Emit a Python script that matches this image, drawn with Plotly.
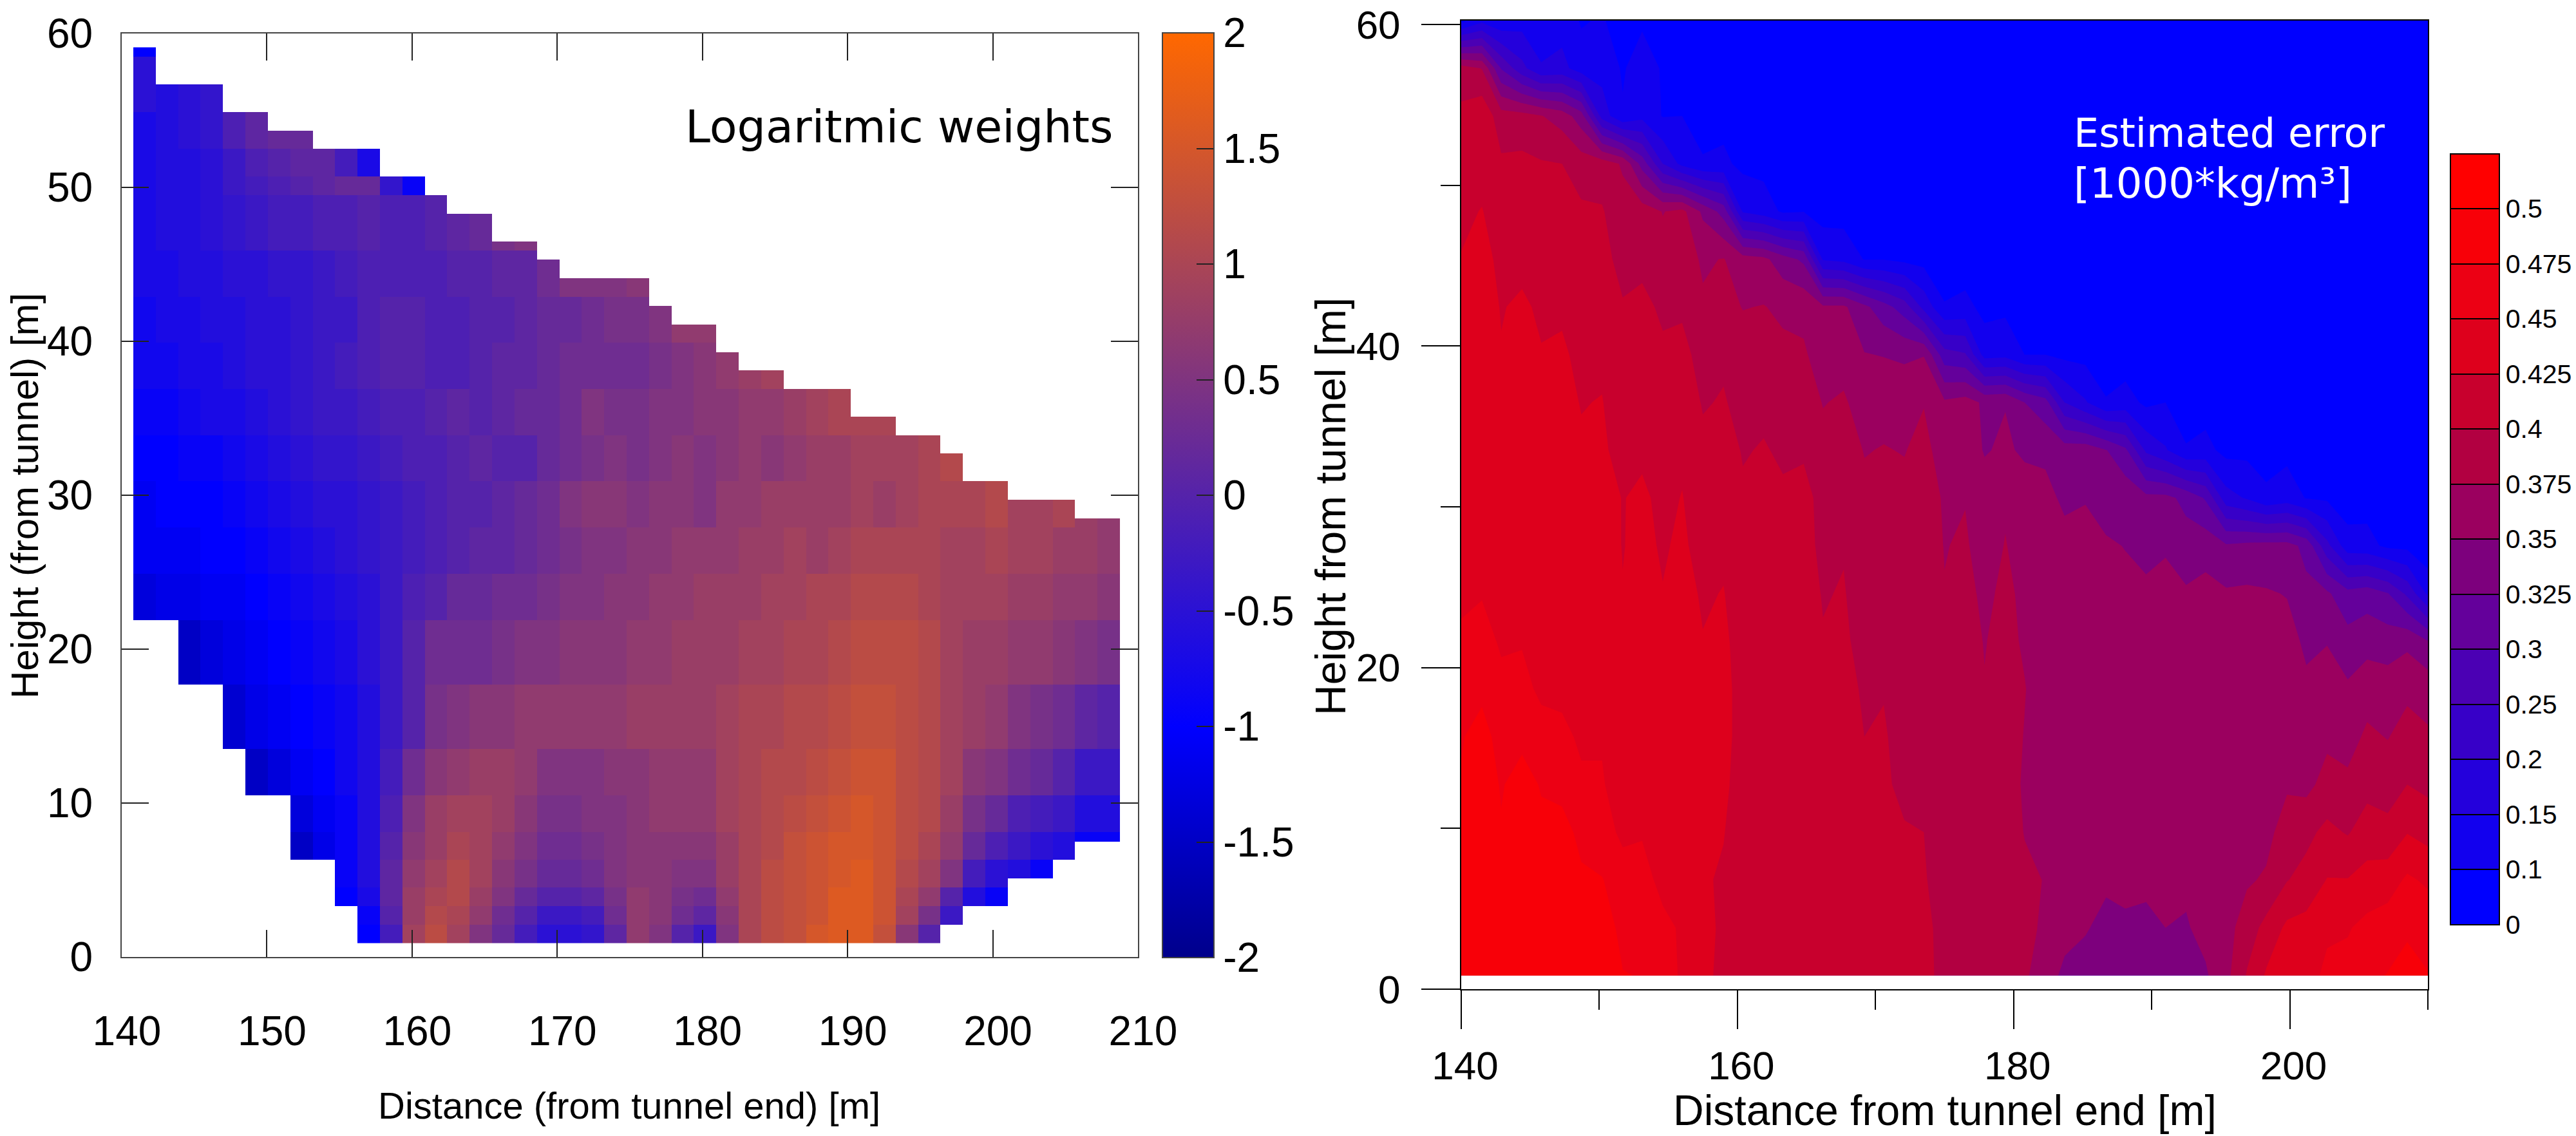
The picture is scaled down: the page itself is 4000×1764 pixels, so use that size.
"""Logarithmic weights and estimated error maps for the tunnel survey."""
import numpy as np
import plotly.graph_objects as go

WIDTH, HEIGHT = 4000, 1764
FONT = "Liberation Sans"

# left panel: cell grid
CELL_X0, CELL_DX = 140.8, 1.545
ROW_Y0, ROW_DY, ROW_COUNT = 0.9, 0.6, 97

# top and bottom of the measured area in every column [m]
COL_TOP = [59.1, 56.7, 56.7, 56.7, 54.9, 54.9, 53.7, 53.7, 52.5, 52.5, 52.5,
           50.7, 50.7, 49.5, 48.3, 48.3, 46.5, 46.5, 45.3, 44.1, 44.1, 44.1,
           44.1, 42.3, 41.1, 41.1, 39.3, 38.1, 38.1, 36.9, 36.9, 36.9, 35.1,
           35.1, 33.9, 33.9, 32.7, 30.9, 30.9, 29.7, 29.7, 29.7, 28.5, 28.5]
COL_BOTTOM = [21.9, 21.9, 17.7, 17.7, 13.5, 10.5, 10.5, 6.3, 6.3, 3.3, 0.9,
              0.9, 0.9, 0.9, 0.9, 0.9, 0.9, 0.9, 0.9, 0.9, 0.9, 0.9,
              0.9, 0.9, 0.9, 0.9, 0.9, 0.9, 0.9, 0.9, 0.9, 0.9, 0.9,
              0.9, 0.9, 0.9, 2.1, 3.3, 3.3, 5.1, 5.1, 6.3, 7.5, 7.5]

# upper edge of each height band of the table below [m]
BAND_TOP = [2.1, 3.3, 4.5, 6.3, 8.1, 10.5, 13.5, 17.7, 21.9, 25, 28, 31, 34, 37,
            40, 43, 46, 49.5, 50.7, 52.5, 55, 58.2, 60]

# log weights x10, one row per height band (bottom first), one value per column
WEIGHTS = [
    [-10, -10, -10, -10, -10, -10, -10, -10, -10, -10, -10, -2, 9, 12, 9, 5, 2, -2, -5, -5, -4, 1, 7, 5, 0, -3, 5, 10, 12, 13, 15, 16, 16, 13, 6, 0, -3, -6, -9, -6, -9, -5, -9, -9],
    [-10, -10, -10, -10, -10, -10, -10, -10, -10, -10, -9, 0, 8, 11, 10, 7, 3, 0, -3, -3, -2, 3, 7, 6, 3, 1, 6, 10, 12, 13, 14, 16, 16, 14, 9, 4, -3, -6, -9, -9, -9, -9, -9, -9],
    [-10, -10, -10, -10, -10, -10, -10, -10, -10, -10, -7, 1, 8, 10, 11, 8, 5, 2, 0, 0, 1, 4, 7, 6, 4, 3, 7, 10, 12, 13, 14, 16, 16, 14, 10, 7, 0, -6, -9, -9, -9, -9, -9, -9],
    [-10, -10, -10, -10, -10, -10, -10, -10, -10, -9, -6, 1, 7, 9, 11, 9, 6, 4, 2, 2, 3, 5, 6, 6, 5, 5, 8, 10, 12, 13, 14, 15, 16, 14, 11, 9, 5, -2, -5, -6, -9, -8, -9, -9],
    [-10, -10, -10, -10, -10, -10, -10, -15, -12, -9, -6, 0, 6, 8, 10, 9, 7, 5, 3, 3, 4, 5, 6, 6, 6, 6, 8, 10, 11, 13, 14, 15, 15, 14, 12, 10, 7, 2, -1, -3, -5, -6, -9, -9],
    [-10, -10, -10, -10, -10, -10, -10, -13, -11, -9, -6, -1, 5, 8, 9, 9, 8, 6, 4, 4, 5, 5, 6, 7, 7, 7, 9, 10, 11, 12, 13, 14, 15, 14, 12, 11, 8, 4, 2, -1, -2, -3, -6, -6],
    [-10, -10, -10, -10, -10, -15, -13, -11, -10, -8, -6, -2, 3, 6, 7, 8, 8, 7, 5, 5, 5, 6, 6, 7, 7, 7, 9, 10, 11, 11, 12, 13, 14, 14, 12, 11, 9, 6, 5, 3, 2, 0, -3, -3],
    [-10, -10, -10, -10, -14, -12, -11, -10, -9, -8, -6, -3, 0, 4, 5, 6, 6, 7, 7, 7, 7, 7, 8, 8, 8, 8, 9, 10, 10, 11, 11, 12, 13, 13, 12, 11, 9, 8, 7, 5, 4, 3, 1, 0],
    [-10, -10, -15, -13, -12, -11, -10, -9, -8, -7, -5, -3, 0, 3, 3, 3, 4, 5, 5, 6, 6, 6, 7, 7, 8, 8, 8, 9, 9, 10, 10, 11, 12, 12, 12, 11, 9, 8, 8, 7, 7, 6, 5, 4],
    [-13, -12, -12, -11, -11, -10, -9, -8, -7, -6, -5, -3, -1, 0, 2, 2, 3, 3, 4, 5, 5, 6, 6, 7, 7, 8, 8, 8, 9, 9, 10, 10, 11, 11, 11, 10, 9, 9, 9, 8, 8, 7, 7, 6],
    [-11, -11, -11, -10, -10, -9, -8, -7, -6, -5, -4, -3, -2, -1, 0, 1, 1, 2, 3, 4, 5, 5, 6, 6, 7, 7, 7, 8, 8, 9, 8, 9, 10, 10, 10, 10, 9, 9, 10, 9, 9, 8, 8, 7],
    [-11, -10, -10, -10, -9, -8, -7, -6, -5, -5, -4, -3, -2, -1, 0, 0, 1, 2, 3, 5, 6, 6, 5, 6, 6, 5, 7, 7, 8, 8, 8, 8, 9, 8, 9, 10, 10, 10, 11, 9, 9, 10, 8, 7],
    [-10, -10, -9, -9, -8, -7, -6, -5, -4, -4, -3, -2, -1, -1, 0, 1, 0, 0, 2, 3, 4, 5, 4, 5, 6, 5, 6, 7, 6, 7, 8, 8, 9, 9, 9, 10, 11, 10, 10, 10, 10, 10, 10, 10],
    [-9, -9, -8, -7, -7, -6, -5, -4, -3, -3, -2, -1, -1, 0, 1, 0, 1, 2, 2, 3, 5, 4, 4, 5, 5, 6, 6, 7, 7, 8, 9, 10, 10, 10, 10, 10, 10, 10, 10, 10, 10, 10, 10, 10],
    [-8, -8, -7, -7, -6, -5, -5, -4, -3, -2, -1, 0, 0, -1, -1, 0, 1, 1, 2, 3, 3, 3, 3, 4, 5, 6, 7, 8, 9, 9, 9, 9, 9, 9, 9, 9, 9, 9, 9, 9, 9, 9, 9, 9],
    [-8, -7, -7, -6, -6, -5, -5, -4, -3, -3, -1, 0, 0, -1, -1, 0, 0, 1, 2, 2, 3, 4, 4, 5, 7, 7, 7, 7, 7, 7, 7, 7, 7, 7, 7, 7, 7, 7, 7, 7, 7, 7, 7, 7],
    [-7, -7, -6, -6, -5, -5, -4, -4, -3, -2, -1, -1, -1, -1, 0, 0, 1, 1, 3, 5, 5, 5, 6, 6, 6, 6, 6, 6, 6, 6, 6, 6, 6, 6, 6, 6, 6, 6, 6, 6, 6, 6, 6, 6],
    [-7, -6, -6, -5, -4, -3, -2, -2, -1, -1, 0, -1, -1, 0, 1, 2, 4, 5, 5, 5, 5, 5, 5, 5, 5, 5, 5, 5, 5, 5, 5, 5, 5, 5, 5, 5, 5, 5, 5, 5, 5, 5, 5, 5],
    [-7, -6, -6, -5, -3, -2, -1, 0, 1, 2, 2, -4, -9, 0, 0, 0, 0, 0, 0, 0, 0, 0, 0, 0, 0, 0, 0, 0, 0, 0, 0, 0, 0, 0, 0, 0, 0, 0, 0, 0, 0, 0, 0, 0],
    [-7, -6, -6, -5, -3, -1, 0, 1, 1, -2, -7, 0, 0, 0, 0, 0, 0, 0, 0, 0, 0, 0, 0, 0, 0, 0, 0, 0, 0, 0, 0, 0, 0, 0, 0, 0, 0, 0, 0, 0, 0, 0, 0, 0],
    [-7, -6, -5, -4, -1, 1, 2, 2, 0, 0, 0, 0, 0, 0, 0, 0, 0, 0, 0, 0, 0, 0, 0, 0, 0, 0, 0, 0, 0, 0, 0, 0, 0, 0, 0, 0, 0, 0, 0, 0, 0, 0, 0, 0],
    [-5, -6, -5, -4, 0, 0, 0, 0, 0, 0, 0, 0, 0, 0, 0, 0, 0, 0, 0, 0, 0, 0, 0, 0, 0, 0, 0, 0, 0, 0, 0, 0, 0, 0, 0, 0, 0, 0, 0, 0, 0, 0, 0, 0],
    [-10, 0, 0, 0, 0, 0, 0, 0, 0, 0, 0, 0, 0, 0, 0, 0, 0, 0, 0, 0, 0, 0, 0, 0, 0, 0, 0, 0, 0, 0, 0, 0, 0, 0, 0, 0, 0, 0, 0, 0, 0, 0, 0, 0],
]

WEIGHT_TICKS = [-2, -1.5, -1, -0.5, 0, 0.5, 1, 1.5, 2]
WEIGHT_LABELS = ["-2", "-1.5", "-1", "-0.5", "0", "0.5", "1", "1.5", "2"]

# right panel: error grid
ERROR_X = [140.0, 141.5, 142.9, 144.4, 145.8, 147.3, 148.7, 150.2, 151.7, 153.1,
           154.6, 156.0, 157.5, 159.0, 160.4, 161.9, 163.3, 164.8, 166.2, 167.7,
           169.2, 170.6, 172.1, 173.5, 175.0, 176.5, 177.9, 179.4, 180.8, 182.3,
           183.7, 185.2, 186.7, 188.1, 189.6, 191.0, 192.5, 193.9, 195.4, 196.9,
           198.3, 199.8, 201.2, 202.7, 204.2, 205.6, 207.1, 208.5, 210.0]
ERROR_Y = [0.85, 3.82, 6.79, 9.76, 12.73, 15.7, 18.67, 21.64, 24.61, 27.58, 30.55,
           33.52, 36.49, 39.46, 42.43, 45.4, 48.37, 51.34, 54.31, 57.28, 60.25]

# estimated error x1000, one row per ERROR_Y
ERRORS = [
    [485, 492, 484, 486, 488, 490, 490, 492, 476, 474, 460, 447, 430, 420, 410, 410, 410, 412, 410, 408, 406, 407, 408, 410, 390, 390, 383, 392, 378, 364, 343, 340, 334, 337, 338, 342, 336, 347, 368, 402, 428, 440, 443, 454, 458, 470, 476, 482, 476],
    [486, 488, 482, 484, 488, 490, 488, 488, 468, 470, 456, 447, 430, 422, 410, 410, 410, 414, 410, 408, 404, 407, 408, 408, 390, 390, 383, 392, 383, 370, 360, 352, 343, 344, 343, 350, 348, 357, 366, 387, 408, 430, 434, 447, 448, 457, 463, 472, 466],
    [483, 487, 480, 482, 486, 486, 478, 476, 463, 459, 443, 442, 428, 422, 410, 414, 410, 416, 408, 410, 404, 409, 406, 402, 390, 392, 383, 392, 380, 374, 360, 362, 354, 359, 356, 362, 354, 362, 358, 372, 378, 399, 408, 426, 426, 434, 438, 454, 446],
    [478, 484, 476, 482, 478, 482, 470, 462, 444, 448, 434, 439, 428, 426, 411, 414, 408, 416, 406, 410, 402, 406, 402, 400, 384, 389, 378, 388, 374, 370, 356, 362, 352, 358, 354, 362, 352, 362, 354, 366, 368, 386, 394, 406, 398, 412, 408, 424, 416],
    [476, 482, 474, 480, 474, 469, 454, 452, 438, 444, 432, 438, 428, 430, 414, 416, 408, 416, 406, 412, 401, 404, 394, 394, 382, 388, 378, 386, 372, 368, 354, 360, 351, 358, 354, 362, 352, 360, 354, 364, 360, 372, 368, 384, 380, 392, 388, 400, 394],
    [474, 480, 470, 472, 462, 456, 446, 448, 436, 442, 431, 438, 428, 432, 416, 416, 406, 416, 406, 412, 400, 402, 392, 394, 382, 388, 378, 386, 374, 366, 352, 359, 350, 358, 354, 362, 352, 360, 352, 362, 356, 366, 360, 370, 366, 379, 374, 384, 378],
    [466, 472, 458, 459, 444, 444, 440, 444, 432, 440, 430, 438, 428, 432, 416, 416, 406, 414, 404, 410, 396, 399, 392, 396, 380, 386, 376, 386, 376, 362, 352, 358, 350, 356, 352, 360, 350, 358, 352, 358, 354, 362, 354, 360, 354, 366, 362, 370, 366],
    [458, 462, 446, 448, 440, 440, 436, 440, 430, 438, 428, 436, 426, 430, 414, 414, 406, 414, 402, 406, 388, 394, 388, 396, 380, 384, 374, 382, 372, 362, 354, 360, 350, 356, 352, 360, 352, 358, 353, 356, 352, 358, 346, 349, 334, 340, 338, 344, 326],
    [441, 448, 436, 440, 434, 436, 432, 438, 426, 436, 426, 434, 422, 426, 410, 412, 406, 414, 398, 402, 384, 392, 386, 392, 376, 382, 370, 380, 370, 364, 358, 360, 352, 358, 354, 362, 353, 358, 353, 354, 352, 349, 331, 329, 308, 314, 301, 240, 140],
    [436, 442, 432, 438, 432, 436, 432, 438, 424, 432, 422, 430, 414, 420, 406, 408, 404, 412, 392, 398, 381, 386, 384, 390, 374, 378, 364, 376, 366, 364, 360, 362, 354, 349, 344, 346, 336, 340, 328, 332, 334, 334, 318, 215, 120, 115, 80, 75, 25],
    [434, 440, 430, 436, 430, 434, 430, 436, 424, 430, 418, 426, 410, 416, 404, 408, 404, 410, 390, 396, 380, 382, 381, 388, 372, 374, 362, 372, 362, 359, 344, 348, 336, 342, 332, 332, 318, 295, 170, 145, 110, 125, 95, 85, 50, 65, 50, 45, 15],
    [434, 440, 430, 434, 430, 434, 428, 430, 414, 420, 410, 420, 406, 412, 398, 402, 396, 396, 382, 386, 374, 376, 374, 382, 364, 366, 348, 354, 346, 344, 338, 340, 326, 305, 190, 155, 105, 115, 70, 75, 60, 75, 50, 45, 15, 35, 15, 25, 5],
    [432, 438, 428, 434, 428, 432, 424, 426, 410, 416, 408, 416, 398, 402, 392, 394, 388, 388, 374, 378, 364, 368, 366, 374, 354, 360, 346, 349, 325, 310, 200, 155, 105, 120, 80, 100, 40, 60, 20, 35, 15, 35, 8, 20, 0, 20, 0, 20, 0],
    [430, 436, 426, 432, 426, 428, 420, 420, 406, 412, 404, 408, 390, 396, 388, 388, 381, 378, 364, 366, 351, 349, 346, 349, 270, 255, 130, 135, 100, 100, 75, 70, 30, 50, 20, 45, 5, 25, 0, 20, 0, 20, 0, 15, 0, 10, 0, 10, 0],
    [428, 434, 424, 428, 422, 422, 414, 416, 402, 406, 396, 396, 378, 384, 374, 376, 370, 369, 354, 354, 331, 310, 275, 185, 105, 115, 70, 80, 45, 45, 15, 35, 5, 25, 0, 25, 0, 15, 0, 10, 0, 10, 0, 5, 0, 5, 0, 5, 0],
    [426, 432, 420, 420, 414, 416, 408, 408, 392, 394, 384, 386, 372, 376, 361, 356, 336, 320, 145, 135, 95, 95, 75, 65, 25, 45, 10, 30, 0, 20, 0, 20, 0, 10, 0, 10, 0, 5, 0, 5] + [0] * 9,
    [420, 426, 412, 416, 410, 414, 404, 402, 384, 388, 374, 382, 345, 315, 145, 125, 85, 95, 55, 60, 20, 40, 15, 30, 0, 20, 0, 15, 0, 10, 0, 5] + [0] * 17,
    [414, 416, 404, 406, 402, 400, 388, 388, 372, 315, 200, 135, 105, 110, 75, 70, 45, 60, 25, 40, 5, 30, 0, 20, 0, 15, 0, 10, 0, 5] + [0] * 19,
    [406, 419, 386, 384, 376, 364, 336, 180, 105, 135, 95, 100, 60, 70, 35, 50, 15, 35, 5, 25, 0, 20, 0, 15, 0, 10, 0, 5] + [0] * 21,
    [386, 374, 296, 215, 155, 165, 125, 130, 90, 125, 90, 95, 55, 65, 30, 45, 10, 30, 0, 25, 0, 15, 0, 10, 0, 5] + [0] * 23,
    [60, 135, 110, 130, 115, 130, 90, 105, 50, 85, 50, 85, 45, 55, 15, 35, 5, 25, 0, 20, 0, 10] + [0] * 27,
]

# colour classes of the error map, the colour bar is evenly spaced per class
ERROR_LEVELS = [0, 0.1, 0.15, 0.2, 0.25, 0.3, 0.325, 0.35, 0.375, 0.4, 0.425, 0.45, 0.475, 0.5]
ERROR_LABELS = ["0", "0.1", "0.15", "0.2", "0.25", "0.3", "0.325", "0.35", "0.375", "0.4",
                "0.425", "0.45", "0.475", "0.5"]
ERROR_COLORS = ["#0000ff", "#1200ee", "#2400dc", "#3700c8", "#4b00b4", "#64009b", "#7d007d",
                "#9b005f", "#b20041", "#c8002d", "#de001c", "#ec0014", "#f80008", "#ff0000"]

WEIGHT_SCALE = [[0, "rgb(0,0,139)"], [0.25, "rgb(0,0,255)"], [1, "rgb(255,104,0)"]]


def paper_x(px):
    return px / WIDTH


def paper_y(px):
    return 1 - px / HEIGHT


def add_label(fig, x, y, text, size, color="black", family=FONT, angle=0, anchor="center"):
    fig.add_annotation(x=paper_x(x), y=paper_y(y), xref="paper", yref="paper", text=text,
                       showarrow=False, xanchor=anchor, yanchor="middle", textangle=angle,
                       font=dict(family=family, size=size, color=color))


# left map, bands repeated over the fine rows and cut to the measured outline
values = np.array(WEIGHTS, dtype=float) / 10
cell_x = CELL_X0 + CELL_DX * (np.arange(values.shape[1]) + 0.5)
cell_y = ROW_Y0 + ROW_DY * (np.arange(ROW_COUNT) + 0.5)
band = np.searchsorted(BAND_TOP, cell_y)
cells = values[band, :]
cells[(cell_y[:, None] < np.array(COL_BOTTOM)) | (cell_y[:, None] > np.array(COL_TOP))] = np.nan

fig = go.Figure()
fig.add_trace(go.Heatmap(
    x=cell_x, y=cell_y, z=cells, xaxis="x", yaxis="y", zmin=-2, zmax=2, zsmooth=False,
    colorscale=WEIGHT_SCALE, hoverongaps=False,
    colorbar=dict(
        x=paper_x(1805), xanchor="left", xpad=0, ypad=0,
        y=paper_y(1487), yanchor="bottom", len=(1487 - 51) / HEIGHT, lenmode="fraction",
        thickness=80, thicknessmode="pixels", outlinecolor="#444444", outlinewidth=2,
        tickmode="array", tickvals=WEIGHT_TICKS, ticktext=WEIGHT_LABELS,
        ticks="inside", ticklen=28, tickwidth=2, tickcolor="#222222",
        tickfont=dict(family=FONT, size=64, color="black"),
    ),
))

# right map, contoured in class numbers so the classes get equal room on the bar
error_class = np.interp(np.array(ERRORS) / 1000, ERROR_LEVELS, np.arange(len(ERROR_LEVELS)))
steps = []
for i, color in enumerate(ERROR_COLORS):
    steps += [[i / len(ERROR_COLORS), color], [(i + 1) / len(ERROR_COLORS), color]]

fig.add_trace(go.Contour(
    x=ERROR_X, y=ERROR_Y, z=error_class, xaxis="x2", yaxis="y2", zmin=0, zmax=len(ERROR_COLORS),
    colorscale=steps, autocontour=False,
    contours=dict(start=0, end=len(ERROR_COLORS), size=1, coloring="fill"),
    line=dict(width=0, smoothing=0),
    colorbar=dict(
        x=paper_x(3805), xanchor="left", xpad=0, ypad=0,
        y=paper_y(1435.5), yanchor="bottom", len=(1435.5 - 238.5) / HEIGHT, lenmode="fraction",
        thickness=76, thicknessmode="pixels", outlinecolor="black", outlinewidth=2,
        tickmode="array", tickvals=list(range(len(ERROR_LABELS))), ticktext=ERROR_LABELS,
        ticks="inside", ticklen=76, tickwidth=2, tickcolor="black",
        tickfont=dict(family=FONT, size=41, color="black"),
    ),
))

left_axis = dict(
    showgrid=False, zeroline=False, showline=True, linecolor="#444444", linewidth=2, mirror="ticks",
    ticks="inside", ticklen=42, tickwidth=2, tickcolor="#222222",
    tickfont=dict(family=FONT, size=64, color="black"),
)
right_axis = dict(
    showgrid=False, zeroline=False, showline=True, linecolor="black", linewidth=2, mirror=True,
    ticks="outside", ticklen=60, tickwidth=2, tickcolor="black",
    tickfont=dict(family=FONT, size=62, color="black"),
    minor=dict(dtick=10, ticks="outside", ticklen=30, tickwidth=2, tickcolor="black"),
)

fig.update_layout(
    width=WIDTH, height=HEIGHT, margin=dict(l=0, r=0, t=0, b=0, autoexpand=False),
    paper_bgcolor="white", plot_bgcolor="white", showlegend=False,
    xaxis=dict(left_axis, domain=[paper_x(189), paper_x(1767)], range=[140, 210], dtick=10,
               ticklabelstandoff=58, ticklabelshift=8, anchor="y"),
    yaxis=dict(left_axis, domain=[paper_y(1486), paper_y(52)], range=[0, 60], dtick=10,
               ticklabelstandoff=30, anchor="x"),
    xaxis2=dict(right_axis, domain=[paper_x(2269), paper_x(3770)], range=[140, 210], dtick=20,
                ticklabelstandoff=4, ticklabelshift=6, anchor="y2"),
    yaxis2=dict(right_axis, domain=[paper_y(1536), paper_y(31.5)], range=[0, 60.26], dtick=20,
                ticklabelstandoff=20, anchor="x2"),
)

# second row of tick marks on the weight bar, the library only draws one side
for tick in WEIGHT_TICKS[1:-1]:
    y_px = 1487 - (tick + 2) / 4 * (1487 - 51)
    fig.add_shape(type="line", xref="paper", yref="paper",
                  x0=paper_x(1805), x1=paper_x(1835), y0=paper_y(y_px), y1=paper_y(y_px),
                  line=dict(color="#222222", width=2))

add_label(fig, 977, 1716, "Distance (from tunnel end) [m]", 58)
add_label(fig, 38, 770, "Height (from tunnel) [m]", 60, angle=-90)
add_label(fig, 1062, 197, "Logaritmic weights", 70, family="DejaVu Sans", anchor="left")

add_label(fig, 3020, 1724, "Distance from tunnel end [m]", 66)
add_label(fig, 2066, 787, "Height from tunnel [m]", 66, angle=-90)
add_label(fig, 3218, 207, "Estimated error", 62, color="white", family="DejaVu Sans", anchor="left")
add_label(fig, 3218, 285, "[1000*kg/m³]", 64, color="white", family="DejaVu Sans", anchor="left")

# the browser's default page margin would push the figure off the window
fig.write_html("out.html", config={"displayModeBar": False},
               post_script="document.body.style.margin = '0';")
